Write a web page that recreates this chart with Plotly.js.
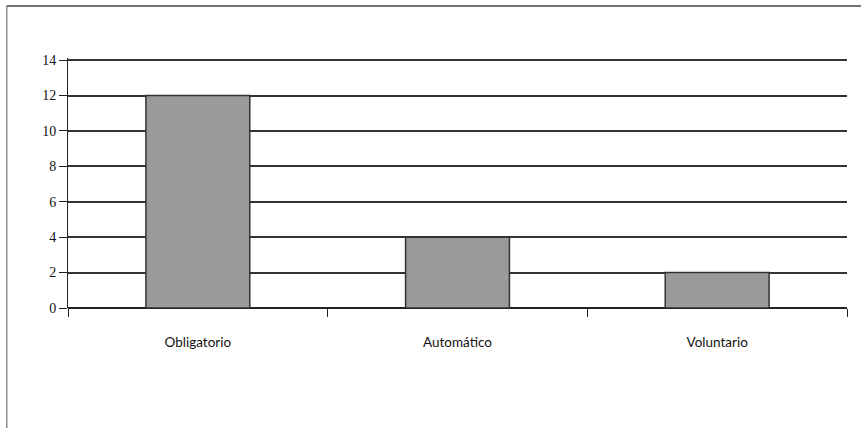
<!DOCTYPE html>
<html>
<head>
<meta charset="utf-8">
<script src="https://cdn.plot.ly/plotly-3.0.1.min.js"></script>
<style>
html,body{margin:0;padding:0;background:#fff;}
#chart{width:861px;height:428px;}
</style>
</head>
<body>
<div id="chart"></div>
<script>
const categories = ["Obligatorio", "Automático", "Voluntario"];
const values = [12, 4, 2];
const yTicks = [0, 2, 4, 6, 8, 10, 12, 14];

const trace = {
  type: "bar",
  x: categories,
  y: values,
  width: 0.4,
  marker: { color: "#9a9a9a", line: { color: "#333", width: 1.5 } },
  hoverinfo: "none"
};

const layout = {
  width: 861,
  height: 428,
  margin: { l: 68, r: 14, t: 58, b: 120 },
  paper_bgcolor: "#fff",
  plot_bgcolor: "#fff",
  showlegend: false,
  xaxis: {
    type: "category",
    tickson: "boundaries",
    ticks: "outside",
    ticklen: 8,
    tickcolor: "#222",
    tickwidth: 1,
    showgrid: false,
    showline: false,
    zeroline: false,
    ticklabelstandoff: 24,
    tickfont: { family: "Lato, 'Open Sans', sans-serif", size: 13.5, color: "#111" },
    fixedrange: true
  },
  yaxis: {
    range: [0, 14.12],
    tickvals: yTicks,
    ticktext: yTicks.map(String),
    ticks: "outside",
    ticklen: 8,
    tickcolor: "#222",
    showgrid: true,
    gridcolor: "#333",
    gridwidth: 2,
    showline: true,
    linecolor: "#222",
    linewidth: 1,
    zeroline: true,
    zerolinecolor: "#222",
    zerolinewidth: 2,
    tickfont: { family: "'Liberation Serif', 'DejaVu Serif', serif", size: 14, color: "#111" },
    fixedrange: true
  },
  shapes: [
    { type: "line", xref: "paper", yref: "paper", x0: -0.0785, x1: 1.02, y0: 1.208, y1: 1.208, line: { color: "#444", width: 1.5 } },
    { type: "line", xref: "paper", yref: "paper", x0: -0.0785, x1: -0.0785, y0: 1.208, y1: -0.485, line: { color: "#555", width: 1 } }
  ]
};

Plotly.newPlot("chart", [trace], layout, { displayModeBar: false, staticPlot: true });
</script>
</body>
</html>
